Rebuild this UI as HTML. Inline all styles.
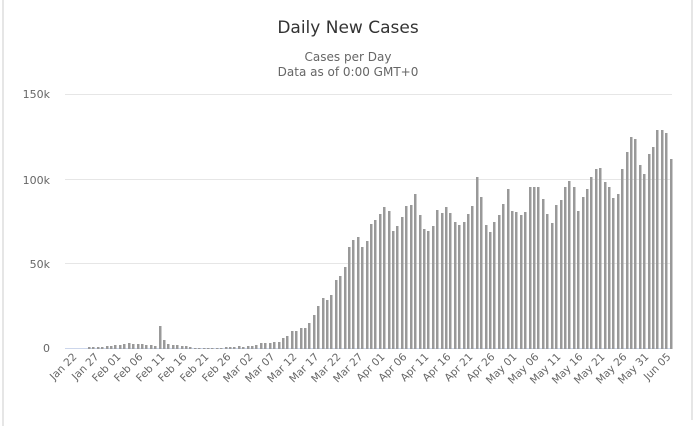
<!DOCTYPE html>
<html><head><meta charset="utf-8"><style>
body{margin:0;background:#fff;width:697px;height:426px;position:relative;overflow:hidden;font-family:"DejaVu Sans","Liberation Sans",sans-serif;}
#svg{position:absolute;left:0;top:0;}
#bars{position:absolute;left:65px;top:0;width:607px;height:348.5px;display:flex;align-items:flex-end;}
#bars i{flex:1;display:block;height:calc(var(--v)*1.686px);background:linear-gradient(to right,transparent 1.1px,#999 1.1px,#999 3.3px,transparent 3.3px);}
.lb{position:absolute;top:351px;width:70px;left:calc(67.2px + var(--k)*21.993px + 4px - 70px);text-align:right;font-size:10.5px;line-height:12px;color:#666;transform-origin:right top;transform:rotate(-45deg);white-space:nowrap;}
</style></head><body>
<svg id="svg" width="697" height="426" viewBox="0 0 697 426" xmlns="http://www.w3.org/2000/svg" font-family="DejaVu Sans, Liberation Sans, sans-serif">
<line x1="3" y1="0" x2="3" y2="426" stroke="#e6e6e6" stroke-width="2"/>
<line x1="692" y1="0" x2="692" y2="420" stroke="#e6e6e6" stroke-width="2"/>
<text x="348" y="33" text-anchor="middle" font-size="17" fill="#333">Daily New Cases</text>
<text x="348" y="61" text-anchor="middle" font-size="12" fill="#666">Cases per Day</text>
<text x="348" y="76" text-anchor="middle" font-size="12" fill="#666">Data as of 0:00 GMT+0</text>
<g stroke="#e6e6e6" stroke-width="1">
<line x1="65" y1="94.5" x2="672" y2="94.5"/>
<line x1="65" y1="179.5" x2="672" y2="179.5"/>
<line x1="65" y1="263.5" x2="672" y2="263.5"/>
<line x1="65" y1="348.5" x2="672" y2="348.5" stroke="#ccd6eb"/>
</g>
<g font-size="11" fill="#666" text-anchor="end">
<text x="50" y="98">150k</text>
<text x="50" y="184">100k</text>
<text x="50" y="268">50k</text>
<text x="50" y="352">0</text>
</g>
</svg>
<div id="bars">
<i style="--v:0"></i><i style="--v:0"></i><i style="--v:0"></i><i style="--v:0"></i><i style="--v:0"></i><i style="--v:1"></i><i style="--v:1"></i><i style="--v:1"></i><i style="--v:1"></i><i style="--v:1.5"></i>
<i style="--v:1.5"></i><i style="--v:2"></i><i style="--v:2"></i><i style="--v:2.5"></i><i style="--v:3"></i><i style="--v:2.5"></i><i style="--v:2.5"></i><i style="--v:2.5"></i><i style="--v:2.3"></i><i style="--v:2"></i>
<i style="--v:1.5"></i><i style="--v:13.6"></i><i style="--v:5"></i><i style="--v:2.5"></i><i style="--v:2"></i><i style="--v:1.8"></i><i style="--v:1.5"></i><i style="--v:1.2"></i><i style="--v:0.8"></i><i style="--v:0.5"></i>
<i style="--v:0.5"></i><i style="--v:0.5"></i><i style="--v:0.3"></i><i style="--v:0.2"></i><i style="--v:0.3"></i><i style="--v:0.5"></i><i style="--v:0.8"></i><i style="--v:1"></i><i style="--v:1"></i><i style="--v:1.3"></i>
<i style="--v:0.8"></i><i style="--v:1.4"></i><i style="--v:1.4"></i><i style="--v:2.2"></i><i style="--v:3"></i><i style="--v:3.4"></i><i style="--v:3.4"></i><i style="--v:3.8"></i><i style="--v:3.8"></i><i style="--v:6.2"></i>
<i style="--v:7.7"></i><i style="--v:10.3"></i><i style="--v:10.3"></i><i style="--v:12.3"></i><i style="--v:12.3"></i><i style="--v:15.1"></i><i style="--v:20"></i><i style="--v:25.2"></i><i style="--v:30.1"></i><i style="--v:28.9"></i>
<i style="--v:31.9"></i><i style="--v:40.8"></i><i style="--v:43.2"></i><i style="--v:48.3"></i>
<i style="--v:60.1"></i><i style="--v:64.1"></i><i style="--v:66.1"></i><i style="--v:60.1"></i><i style="--v:63.7"></i><i style="--v:73.8"></i><i style="--v:76.4"></i><i style="--v:79.8"></i><i style="--v:83.7"></i><i style="--v:81.4"></i>
<i style="--v:69.9"></i><i style="--v:72.5"></i><i style="--v:77.8"></i><i style="--v:84.4"></i><i style="--v:85.2"></i><i style="--v:91.7"></i><i style="--v:79.2"></i><i style="--v:71"></i><i style="--v:69.6"></i><i style="--v:72.5"></i>
<i style="--v:82.4"></i><i style="--v:80.2"></i><i style="--v:84.2"></i><i style="--v:80.5"></i><i style="--v:75"></i><i style="--v:73.4"></i><i style="--v:75"></i><i style="--v:79.8"></i><i style="--v:84.4"></i><i style="--v:101.6"></i>
<i style="--v:89.8"></i><i style="--v:73.4"></i><i style="--v:69.1"></i><i style="--v:75"></i><i style="--v:78.9"></i><i style="--v:85.5"></i><i style="--v:94.5"></i><i style="--v:81.8"></i><i style="--v:81.2"></i><i style="--v:78.9"></i>
<i style="--v:80.8"></i><i style="--v:95.6"></i><i style="--v:95.6"></i><i style="--v:96"></i><i style="--v:88.5"></i><i style="--v:79.8"></i><i style="--v:74.4"></i><i style="--v:84.9"></i><i style="--v:88.3"></i><i style="--v:96"></i>
<i style="--v:99.6"></i><i style="--v:96"></i><i style="--v:81.4"></i><i style="--v:89.8"></i><i style="--v:94.4"></i><i style="--v:101.6"></i><i style="--v:106.6"></i><i style="--v:107.2"></i><i style="--v:99"></i><i style="--v:96"></i>
<i style="--v:89.4"></i><i style="--v:91.7"></i><i style="--v:106.2"></i><i style="--v:116.5"></i><i style="--v:125.7"></i><i style="--v:124"></i><i style="--v:108.6"></i><i style="--v:103.6"></i><i style="--v:115.1"></i><i style="--v:119.8"></i>
<i style="--v:129.9"></i><i style="--v:129.9"></i><i style="--v:127.9"></i><i style="--v:112.5"></i>
</div>
<div class="lb" style="--k:0">Jan 22</div>
<div class="lb" style="--k:1">Jan 27</div>
<div class="lb" style="--k:2">Feb 01</div>
<div class="lb" style="--k:3">Feb 06</div>
<div class="lb" style="--k:4">Feb 11</div>
<div class="lb" style="--k:5">Feb 16</div>
<div class="lb" style="--k:6">Feb 21</div>
<div class="lb" style="--k:7">Feb 26</div>
<div class="lb" style="--k:8">Mar 02</div>
<div class="lb" style="--k:9">Mar 07</div>
<div class="lb" style="--k:10">Mar 12</div>
<div class="lb" style="--k:11">Mar 17</div>
<div class="lb" style="--k:12">Mar 22</div>
<div class="lb" style="--k:13">Mar 27</div>
<div class="lb" style="--k:14">Apr 01</div>
<div class="lb" style="--k:15">Apr 06</div>
<div class="lb" style="--k:16">Apr 11</div>
<div class="lb" style="--k:17">Apr 16</div>
<div class="lb" style="--k:18">Apr 21</div>
<div class="lb" style="--k:19">Apr 26</div>
<div class="lb" style="--k:20">May 01</div>
<div class="lb" style="--k:21">May 06</div>
<div class="lb" style="--k:22">May 11</div>
<div class="lb" style="--k:23">May 16</div>
<div class="lb" style="--k:24">May 21</div>
<div class="lb" style="--k:25">May 26</div>
<div class="lb" style="--k:26">May 31</div>
<div class="lb" style="--k:27">Jun 05</div>
</body></html>
